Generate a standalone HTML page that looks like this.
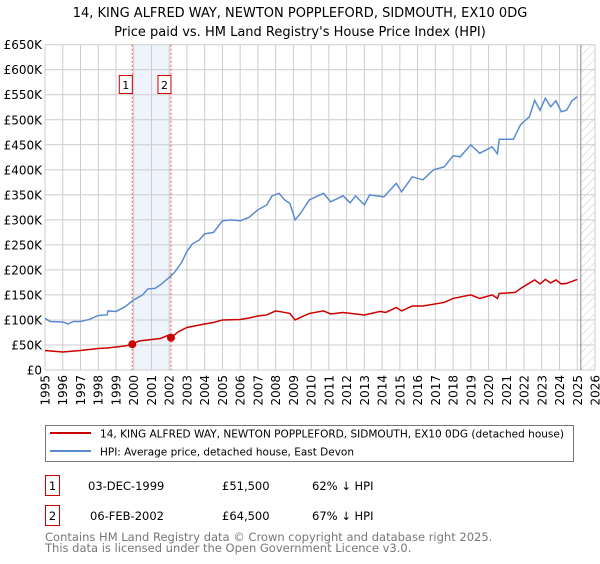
<!DOCTYPE html>
<html><head><meta charset="utf-8"><style>
body{margin:0;background:#fff;font-family:"DejaVu Sans","Liberation Sans",sans-serif;}
svg text{font-family:"DejaVu Sans","Liberation Sans",sans-serif;}
</style></head><body>
<svg id="chart" width="600" height="560" viewBox="0 0 600 560" xmlns="http://www.w3.org/2000/svg">
<defs><pattern id="hatch" width="6" height="6" patternUnits="userSpaceOnUse" patternTransform="rotate(45)"><line x1="0" y1="0" x2="0" y2="6" stroke="#bbb" stroke-width="0.8"/></pattern></defs>
<text x="300" y="17" text-anchor="middle" font-size="13">14, KING ALFRED WAY, NEWTON POPPLEFORD, SIDMOUTH, EX10 0DG</text>
<text x="300" y="36" text-anchor="middle" font-size="13">Price paid vs. HM Land Registry's House Price Index (HPI)</text>
<g id="grid"></g><g id="marks"></g><g id="axes"></g>
<rect x="45.5" y="425.5" width="528" height="36" fill="#fff" stroke="#777"/>
<line x1="50" y1="433" x2="91" y2="433" stroke="#cc0000" stroke-width="2"/>
<text x="100" y="437.5" font-size="11" textLength="464" lengthAdjust="spacingAndGlyphs">14, KING ALFRED WAY, NEWTON POPPLEFORD, SIDMOUTH, EX10 0DG (detached house)</text>
<line x1="50" y1="451" x2="91" y2="451" stroke="#5b8ccf" stroke-width="2"/>
<text x="100" y="455.5" font-size="11" textLength="254" lengthAdjust="spacingAndGlyphs">HPI: Average price, detached house, East Devon</text>
<rect x="45.5" y="475.5" width="14" height="20" fill="#fff" stroke="#cc0000"/>
<text x="52.5" y="490" text-anchor="middle" font-size="11.5">1</text>
<text x="88" y="490" font-size="11.5">03-DEC-1999</text>
<text x="222" y="490" font-size="11.5">£51,500</text>
<text x="312" y="490" font-size="11.5">62% ↓ HPI</text>
<rect x="45.5" y="505.5" width="14" height="20" fill="#fff" stroke="#cc0000"/>
<text x="52.5" y="520" text-anchor="middle" font-size="11.5">2</text>
<text x="90" y="520" font-size="11.5">06-FEB-2002</text>
<text x="222" y="520" font-size="11.5">£64,500</text>
<text x="312" y="520" font-size="11.5">67% ↓ HPI</text>
<text x="45" y="541" font-size="11.5" fill="#777">Contains HM Land Registry data © Crown copyright and database right 2025.</text>
<text x="45" y="552" font-size="11.5" fill="#777">This data is licensed under the Open Government Licence v3.0.</text>
</svg>
<script>
const hpiYears=[1995,1995.3,1996,1996.3,1996.6,1997,1997.5,1998,1998.5,1998.55,1999,1999.5,2000,2000.5,2000.8,2001.2,2001.5,2002,2002.3,2002.7,2003,2003.3,2003.7,2004,2004.5,2005,2005.5,2006,2006.5,2007,2007.5,2007.8,2008.2,2008.5,2008.8,2009.1,2009.4,2009.9,2010.7,2011.1,2011.8,2012.2,2012.5,2013,2013.3,2014.1,2014.8,2015.1,2015.7,2016.3,2016.9,2017.5,2018,2018.4,2019,2019.5,2020.2,2020.5,2020.6,2021.4,2021.8,2022.3,2022.6,2022.9,2023.2,2023.5,2023.8,2024.1,2024.4,2024.7,2025.0];
const hpiValues=[103,97,96,92,97,97,101,109,110,118,117,126,140,150,162,163,170,185,195,215,237,252,260,272,275,298,300,298,305,320,330,348,353,340,333,300,313,340,353,336,348,334,348,330,350,346,373,356,386,380,400,406,428,426,450,433,446,432,461,461,490,506,539,519,543,526,538,516,519,538,546];
const propYears=[1995,1996,1997,1998,1998.5,1999,1999.5,1999.92,2000.3,2001,2001.5,2002,2002.1,2002.5,2003,2004,2004.5,2005,2006,2006.5,2007,2007.5,2008,2008.5,2008.8,2009.1,2009.4,2009.9,2010.7,2011.1,2011.8,2013,2013.9,2014.2,2014.8,2015.1,2015.7,2016.3,2017.5,2018,2019,2019.5,2020.2,2020.5,2020.6,2021.5,2021.9,2022.6,2022.9,2023.2,2023.5,2023.8,2024.1,2024.4,2025.0];
const propValues=[39,36,39,43,44,46,48,51.5,58,61,63,70,64.5,76,85,92,95,100,101,104,108,110,118,115,113,100,105,113,118,112,115,110,117,115,125,118,128,128,135,143,150,143,150,143,153,155,165,180,172,181,174,180,172,173,181];
const saleYears=[1999.92,2002.1];
const saleValues=[51.5,64.5];
const saleLabels=["1","2"];
const yTicks=[0,50,100,150,200,250,300,350,400,450,500,550,600,650];
const yTickLabels=["£0","£50K","£100K","£150K","£200K","£250K","£300K","£350K","£400K","£450K","£500K","£550K","£600K","£650K"];
const xTicks=[1995,1996,1997,1998,1999,2000,2001,2002,2003,2004,2005,2006,2007,2008,2009,2010,2011,2012,2013,2014,2015,2016,2017,2018,2019,2020,2021,2022,2023,2024,2025,2026];
const dataEnd=2025.2;

const X0=45,X1=595,Y0=370,Y1=44.7;
const xs=y=>X0+(y-1995)/(2026-1995)*(X1-X0);
const ys=v=>Y0-v/650*(Y0-Y1);
const NS="http://www.w3.org/2000/svg";
function mk(parent,tag,attrs){const e=document.createElementNS(NS,tag);for(const k in attrs)e.setAttribute(k,attrs[k]);document.getElementById(parent).appendChild(e);return e;}
let e;
e=mk('grid','rect',{x:xs(saleYears[0]),y:Y1,width:xs(saleYears[1])-xs(saleYears[0]),height:Y0-Y1,fill:'#eef3fc'});


e=mk('grid','rect',{x:xs(dataEnd),y:Y1,width:X1-xs(dataEnd),height:Y0-Y1,fill:'url(#hatch)'});


yTicks.forEach((t,i)=>{
 e=mk('grid','line',{x1:X0,x2:X1,y1:ys(t),y2:ys(t),stroke:'#ccc','stroke-width':1});
 
 
 e=mk('axes','text',{x:X0-3,y:ys(t)+4.5,'text-anchor':'end','font-size':'12'});
 e.textContent=yTickLabels[i];
 
 
});
xTicks.forEach(t=>{
 e=mk('grid','line',{x1:xs(t),x2:xs(t),y1:Y1,y2:Y0,stroke:'#ccc','stroke-width':1});
 
 
 e=mk('axes','text',{x:0,y:0,'text-anchor':'end','font-size':'12',transform:`translate(${xs(t)+4.5},${Y0+5}) rotate(-90)`});
 e.textContent=t;
 
 
});
e=mk('grid','line',{x1:xs(dataEnd),x2:xs(dataEnd),y1:Y1,y2:Y0,stroke:'#888','stroke-width':1});


saleYears.forEach((s,i)=>{
 e=mk('grid','line',{x1:xs(s),x2:xs(s),y1:Y1,y2:Y0,stroke:'#e55','stroke-width':1,'stroke-dasharray':'2,2'});
 
 
 e=mk('marks','rect',{x:xs(s)-13,y:75.5,width:13,height:18,fill:'#fff',stroke:'#cc0000'});
 
 
 e=mk('marks','text',{x:xs(s)-6.5,y:89,'text-anchor':'middle','font-size':'11'});
 e.textContent=saleLabels[i];
 
 
});
e=mk('marks','polyline',{points:hpiYears.map((y,i)=>xs(y)+','+ys(hpiValues[i])).join(' '),fill:'none',stroke:'#5b8ccf','stroke-width':1.5});


e=mk('marks','polyline',{points:propYears.map((y,i)=>xs(y)+','+ys(propValues[i])).join(' '),fill:'none',stroke:'#cc0000','stroke-width':1.5});


saleYears.forEach((s,i)=>{
 e=mk('marks','circle',{cx:xs(s),cy:ys(saleValues[i]),r:4,fill:'#cc0000'});
 
 
});
</script>
</body></html>
